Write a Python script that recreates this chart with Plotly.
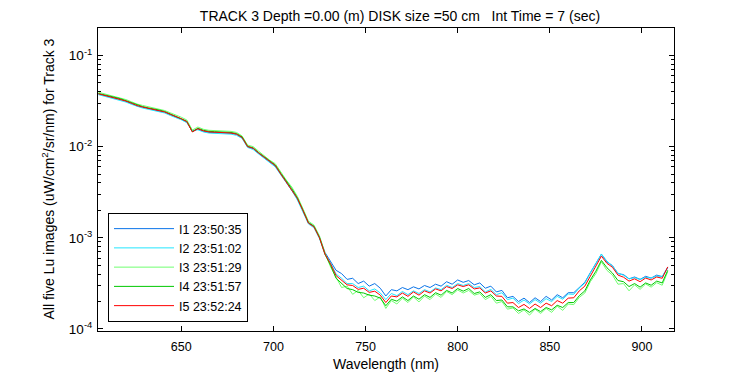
import plotly.graph_objects as go

UNIT = 1e-4  # values below are in units of 1e-4 uW/cm^2/sr/nm

wavelength = [605, 608, 611, 614, 617, 620, 623, 626, 629, 632, 635, 638, 641, 644, 647, 650, 653, 656, 659, 662,
              665, 668, 671, 674, 677, 680, 683, 686, 689, 692, 695, 698, 701, 704, 707, 710, 713, 716, 719, 722,
              725, 728, 731, 734, 737, 740, 743, 746, 749, 752, 755, 758, 761, 764, 767, 770, 773, 776, 779, 782,
              785, 788, 791, 794, 797, 800, 803, 806, 809, 812, 815, 818, 821, 824, 827, 830, 833, 836, 839, 842,
              845, 848, 851, 854, 857, 860, 863, 866, 869, 872, 875, 878, 881, 884, 887, 890, 893, 896, 899, 902,
              905, 908, 911, 914]

I1 = [377, 365, 352, 341, 330, 314, 297, 279, 270, 261, 255, 248, 238, 224, 213, 200, 186, 146, 156, 147,
      143, 142, 142, 141, 140, 136, 125, 99, 95, 84, 75, 67, 61, 50, 41, 34, 27, 20, 14.6, 13.4,
      10.2, 6.9, 5.6, 4.4, 4.05, 3.5, 3.6, 3.15, 3.35, 2.95, 3.15, 2.80, 2.30, 2.70, 2.62, 2.85, 2.70, 2.90, 2.75, 3.00,
      2.85, 3.10, 2.95, 3.30, 3.10, 3.45, 3.25, 3.40, 3.05, 3.20, 2.80, 2.95, 2.55, 2.65, 2.20, 2.28, 2.00, 2.18, 1.95, 2.20,
      2.00, 2.28, 2.08, 2.38, 2.20, 2.50, 2.50, 2.88, 3.25, 4.15, 5.20, 6.60, 5.45, 4.95, 4.05, 3.95, 3.55, 3.72, 3.50, 3.78,
      3.62, 3.90, 3.75, 4.75]

I2 = [372, 358, 346, 335, 324, 308, 291, 275, 265, 257, 250, 244, 234, 220, 209, 197, 183, 150, 153, 145,
      141, 140, 139, 138, 137, 133, 123, 98, 93, 83, 74, 66, 60, 49, 40, 33, 26, 19.5, 14.2, 12.9,
      9.8, 6.6, 5.3, 4.0, 3.6, 3.15, 3.15, 2.85, 2.95, 2.62, 2.75, 2.48, 2.10, 2.45, 2.32, 2.58, 2.38, 2.62, 2.45, 2.70,
      2.55, 2.82, 2.70, 3.02, 2.85, 3.15, 3.00, 3.15, 2.85, 2.92, 2.55, 2.72, 2.38, 2.50, 2.10, 2.18, 1.90, 2.08, 1.88, 2.10,
      1.92, 2.15, 2.00, 2.28, 2.12, 2.42, 2.40, 2.82, 3.18, 4.10, 5.15, 6.65, 5.55, 4.90, 4.10, 3.88, 3.55, 3.65, 3.50, 3.68,
      3.62, 3.80, 3.78, 4.65]

I3 = [395, 381, 368, 356, 346, 328, 310, 293, 283, 274, 267, 260, 249, 235, 223, 210, 196, 152, 164, 155,
      151, 150, 149, 148, 147, 143, 131, 104, 100, 89, 79, 71, 65, 52, 43, 36, 28.5, 21, 15.2, 13.8,
      10.5, 6.8, 4.8, 3.7, 2.85, 2.95, 2.40, 2.65, 2.20, 2.42, 2.05, 2.25, 1.68, 2.05, 1.88, 2.18, 1.95, 2.25, 1.98, 2.30,
      2.10, 2.42, 2.22, 2.58, 2.38, 2.68, 2.48, 2.65, 2.35, 2.45, 2.10, 2.28, 1.92, 2.00, 1.65, 1.70, 1.48, 1.62, 1.42, 1.65,
      1.48, 1.68, 1.52, 1.78, 1.60, 1.88, 1.85, 2.22, 2.48, 3.30, 4.05, 5.45, 4.40, 3.90, 3.10, 3.15, 2.62, 3.05, 2.72, 3.12,
      2.88, 3.22, 3.02, 4.25]

I4 = [383, 371, 358, 347, 336, 319, 302, 285, 275, 266, 260, 252, 243, 228, 217, 204, 190, 146, 159, 151,
      147, 146, 145, 144, 143, 139, 128, 101, 97, 86, 77, 69, 63, 51, 42, 34.5, 27.5, 20.3, 14.7, 13.4,
      10.1, 6.6, 5.0, 3.6, 3.15, 2.78, 2.70, 2.52, 2.48, 2.35, 2.30, 2.18, 1.80, 2.12, 2.02, 2.25, 2.05, 2.30, 2.12, 2.38,
      2.22, 2.50, 2.35, 2.65, 2.48, 2.78, 2.60, 2.78, 2.45, 2.55, 2.22, 2.38, 2.05, 2.08, 1.75, 1.75, 1.58, 1.66, 1.52, 1.68,
      1.55, 1.72, 1.62, 1.82, 1.72, 1.95, 1.95, 2.32, 2.62, 3.45, 4.30, 5.65, 4.70, 4.10, 3.40, 3.30, 2.92, 3.15, 2.88, 3.20,
      3.02, 3.35, 3.20, 4.40]

I5 = [380, 367, 355, 343, 333, 316, 299, 282, 272, 263, 257, 250, 240, 226, 215, 202, 188, 145, 157, 149,
      145, 144, 143, 142, 141, 137, 126, 100, 96, 85, 76, 68, 62, 50, 41, 34, 27, 20, 14.5, 13.2,
      10.0, 6.6, 5.2, 3.85, 3.45, 3.05, 3.00, 2.72, 2.80, 2.52, 2.60, 2.35, 1.95, 2.30, 2.25, 2.48, 2.28, 2.55, 2.35, 2.62,
      2.48, 2.75, 2.62, 2.92, 2.78, 3.05, 2.92, 3.05, 2.75, 2.82, 2.48, 2.62, 2.30, 2.28, 1.92, 1.95, 1.72, 1.86, 1.68, 1.88,
      1.72, 1.92, 1.80, 2.05, 1.92, 2.18, 2.20, 2.62, 2.95, 3.85, 4.85, 6.30, 5.25, 4.75, 3.90, 3.70, 3.35, 3.55, 3.30, 3.62,
      3.45, 3.72, 3.60, 4.80]

series_names = ["I1 23:50:35", "I2 23:51:02", "I3 23:51:29", "I4 23:51:57", "I5 23:52:24"]
series_values = [I1, I2, I3, I4, I5]
series_colors = ["#0A74E8", "#22E6FF", "#70FF70", "#00C800", "#FF0000"]

x_ticks = [650, 700, 750, 800, 850, 900]
y_ticks = [1e-4, 1e-3, 1e-2, 1e-1]
y_ticktext = ["10<sup>-4</sup>", "10<sup>-3</sup>", "10<sup>-2</sup>", "10<sup>-1</sup>"]
y_minor = [m * 10.0 ** e for e in (-5, -4, -3, -2, -1) for m in range(2, 10)]

FONT = "Liberation Sans, Arial, sans-serif"

# page is shown with the browser's 8px body margin, so figure coords = page coords - 8
PL, PR, PT, PB = 90, 84, 20, 52
PW = 750 - PL - PR

fig = go.Figure()
for name, vals, col in zip(series_names, series_values, series_colors):
    fig.add_trace(go.Scatter(
        x=wavelength, y=[v * UNIT for v in vals], mode="lines", name=name,
        line=dict(color=col, width=1)))

fig.update_layout(
    width=750, height=375,
    margin=dict(l=PL, r=PR, t=PT, b=PB),
    paper_bgcolor="white", plot_bgcolor="white",
    font=dict(family=FONT, size=12, color="black"),
    title=dict(text="TRACK 3 Depth =0.00 (m) DISK size =50 cm   Int Time = 7 (sec)",
               x=392 / 750, xanchor="center", y=1 - 8 / 375, yanchor="middle",
               font=dict(family=FONT, size=14, color="black")),
    showlegend=True,
    legend=dict(x=10 / PW, y=9 / 303, xanchor="left", yanchor="bottom",
                bgcolor="white", bordercolor="black", borderwidth=1,
                font=dict(family=FONT, size=12.5, color="black"),
                itemwidth=60, tracegroupgap=0),
    xaxis=dict(range=[604.8, 917.4], tickvals=x_ticks, ticks="inside", ticklen=5,
               showline=True, linecolor="black", linewidth=1, mirror="ticks",
               showgrid=False, zeroline=False, tickcolor="black", ticklabelstandoff=4,
               tickfont=dict(size=12.5),
               title=dict(text="Wavelength (nm)", standoff=6, font=dict(size=14))),
    yaxis=dict(type="log", range=[-4.022, -0.699], tickvals=y_ticks, ticktext=y_ticktext,
               ticks="inside", ticklen=5, tickcolor="black", ticklabelstandoff=2,
               tickfont=dict(size=13.5),
               showline=True, linecolor="black", linewidth=1, mirror="ticks",
               showgrid=False, zeroline=False,
               minor=dict(tickmode="array", tickvals=y_minor, ticks="inside", ticklen=3,
                          tickcolor="black", showgrid=False)),
    annotations=[dict(text="All five Lu images (uW/cm<sup>2</sup>/sr/nm) for Track 3",
                      xref="paper", yref="paper", x=(40 - PL) / PW, y=0.5,
                      xanchor="center", yanchor="middle", textangle=-90, showarrow=False,
                      font=dict(family=FONT, size=14, color="black"))],
)

fig.write_html("out.html")
